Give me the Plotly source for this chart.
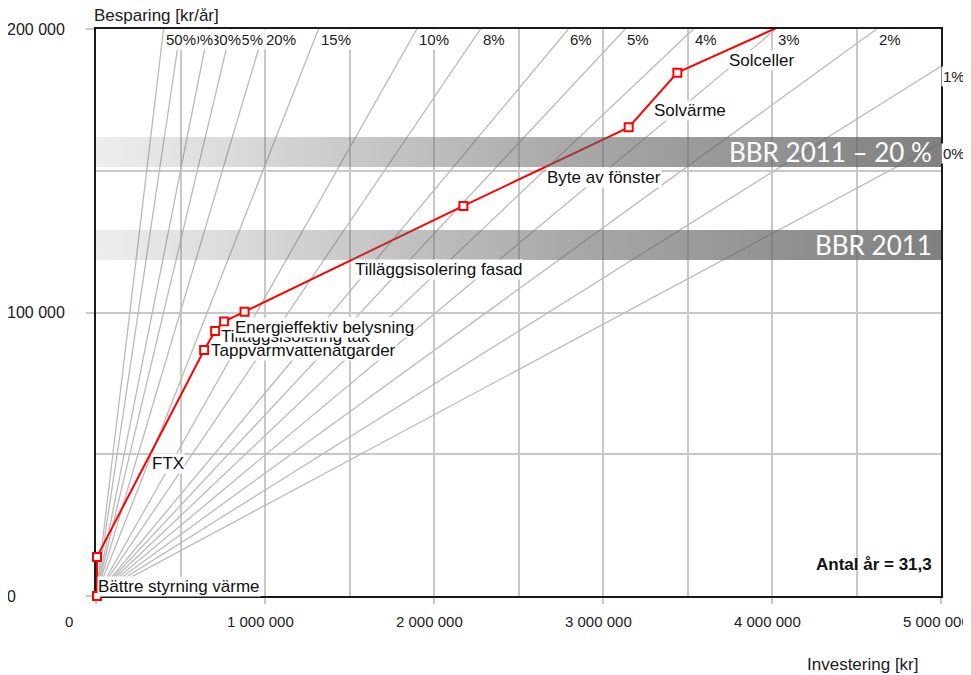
import plotly.graph_objects as go

# ---------------- data ----------------
years = 31.3
rates = [0.50, 0.40, 0.30, 0.25, 0.20, 0.15, 0.10, 0.08, 0.06, 0.05, 0.04, 0.03, 0.02, 0.01, 0.0]
rate_labels = ["50%", "40%", "30%", "25%", "20%", "15%", "10%", "8%", "6%", "5%", "4%", "3%", "2%", "1%", "0%"]

measures = ["Bättre styrning värme", "FTX", "Tappvarmvattenåtgärder", "Tilläggsisolering tak",
            "Energieffektiv belysning", "Tilläggsisolering fasad", "Byte av fönster", "Solvärme", "Solceller"]
cum_investment = [6000, 6000, 640000, 705000, 758000, 879000, 2174000, 3152000, 3440000, 4042000]
cum_saving = [0, 13800, 86800, 93500, 96800, 100300, 137600, 165300, 184600, 200800]

band_names = ["BBR 2011 – 20 %", "BBR 2011"]
band_low = [151300, 118500]
band_high = [161900, 129100]

x_tickvals = [0, 1000000, 2000000, 3000000, 4000000, 5000000]
x_ticktext = ["0", "1 000 000", "2 000 000", "3 000 000", "4 000 000", "5 000 000"]
y_tickvals = [0, 100000, 200000]
y_ticktext = ["0", "100 000", "200 000"]

X_MAX = 5000000
Y_MAX = 200000

# ---------------- figure ----------------
fig = go.Figure()
FONT = "Liberation Sans, Arial, sans-serif"
GRID = "#c8c8c8"


def annuity(r, n):
    return 1.0 / n if r == 0 else r / (1 - (1 + r) ** (-n))


annotations = []
rx, ry = [], []
ends = []
for r in rates:
    a = annuity(r, years)
    xe = min(X_MAX, Y_MAX / a)
    ye = a * xe
    rx += [0, xe, None]
    ry += [0, ye, None]
    ends.append((xe, ye))

fig.add_trace(go.Scatter(x=rx, y=ry, mode="lines", line=dict(color="#bababa", width=1.3),
                         hoverinfo="skip", showlegend=False))

# cumulative curve
fig.add_trace(go.Scatter(x=cum_investment, y=cum_saving, mode="lines+markers",
                         line=dict(color="#ff0000", width=2),
                         marker=dict(symbol="square", size=8, color="white",
                                     line=dict(color="#ff0000", width=2)),
                         cliponaxis=False, showlegend=False))

# BBR bands (semi transparent gradient, on top of curve)
for name, lo, hi in zip(band_names, band_low, band_high):
    fig.add_trace(go.Scatter(x=[0, X_MAX, X_MAX, 0, 0], y=[lo, lo, hi, hi, lo],
                             mode="lines", line=dict(width=0), fill="toself",
                             fillgradient=dict(type="horizontal",
                                               colorscale=[[0, "rgba(110,110,110,0.12)"],
                                                           [0.55, "rgba(100,100,100,0.55)"],
                                                           [1, "rgba(100,100,100,0.82)"]]),
                             hoverinfo="skip", showlegend=False))
    annotations.append(dict(x=X_MAX, y=(lo + hi) / 2, xref="x", yref="y", text=name,
                            showarrow=False, xanchor="right", yanchor="middle", xshift=-7,
                            font=dict(family="Lato, sans-serif", size=26, color="white")))

# rate labels (ascending order so higher rates drawn on top)
for lab, (xe, ye) in reversed(list(zip(rate_labels, ends))):
    annotations.append(dict(x=xe, y=ye, xref="x", yref="y", text=lab, showarrow=False,
                            xanchor="left", yanchor="top", bgcolor="white", borderpad=1,
                            font=dict(family=FONT, size=15, color="#202020")))

# measure labels at segment midpoints
for i, name in enumerate(measures):
    mx = (cum_investment[i] + cum_investment[i + 1]) / 2
    my = (cum_saving[i] + cum_saving[i + 1]) / 2
    annotations.append(dict(x=mx, y=my, xref="x", yref="y", text=name, showarrow=False,
                            xanchor="left", yanchor="top", bgcolor="white", borderpad=0,
                            font=dict(family=FONT, size=17, color="#111111")))

# x tick labels
for v, t in zip(x_tickvals, x_ticktext):
    annotations.append(dict(x=v, y=0, xref="x", yref="paper", text=t, showarrow=False,
                            xanchor="center", yanchor="middle",
                            xshift=-27 if v == 0 else -5, yshift=-25,
                            font=dict(family=FONT, size=15, color="#202020")))
# y tick labels
for v, t in zip(y_tickvals, y_ticktext):
    annotations.append(dict(x=0, y=v, xref="paper", yref="y", text=t, showarrow=False,
                            xanchor="left", yanchor="middle", xshift=-91,
                            font=dict(family=FONT, size=16, color="#202020")))

annotations.append(dict(x=0, y=1, xref="paper", yref="paper", text="Besparing [kr/år]",
                        showarrow=False, xanchor="left", yanchor="middle", xshift=-4, yshift=14,
                        font=dict(family=FONT, size=17, color="#202020")))
annotations.append(dict(x=1, y=0, xref="paper", yref="paper", text="Investering [kr]",
                        showarrow=False, xanchor="right", yanchor="middle", xshift=-20, yshift=-68,
                        font=dict(family=FONT, size=17, color="#202020")))
annotations.append(dict(x=1, y=0, xref="paper", yref="paper", text="<b>Antal år = 31,3</b>",
                        showarrow=False, xanchor="right", yanchor="middle", xshift=-7, yshift=32,
                        font=dict(family=FONT, size=17, color="#111111")))

# the page body adds an 8px offset, so the figure is sized to fill the rest of the window
fig.update_layout(
    width=963, height=667,
    margin=dict(l=88, r=30, t=21, b=79),
    paper_bgcolor="white", plot_bgcolor="white",
    showlegend=False,
    annotations=annotations,
    xaxis=dict(range=[0, X_MAX], tickvals=x_tickvals, showticklabels=False,
               ticks="outside", ticklen=6, tickcolor=GRID, tickwidth=1.5,
               showgrid=True, gridcolor=GRID, gridwidth=1.5,
               minor=dict(dtick=500000, showgrid=True, gridcolor=GRID, gridwidth=1.5, ticks=""),
               showline=True, linecolor="#1a1a1a", linewidth=2, mirror=True,
               zeroline=False, layer="below traces", fixedrange=True),
    yaxis=dict(range=[0, Y_MAX], tickvals=y_tickvals, showticklabels=False,
               ticks="outside", ticklen=8, tickcolor=GRID, tickwidth=1.5,
               showgrid=True, gridcolor=GRID, gridwidth=1.5,
               minor=dict(dtick=50000, showgrid=True, gridcolor=GRID, gridwidth=1.5, ticks=""),
               showline=True, linecolor="#1a1a1a", linewidth=2, mirror=True,
               zeroline=False, layer="below traces", fixedrange=True),
)

fig.write_html("out.html")
